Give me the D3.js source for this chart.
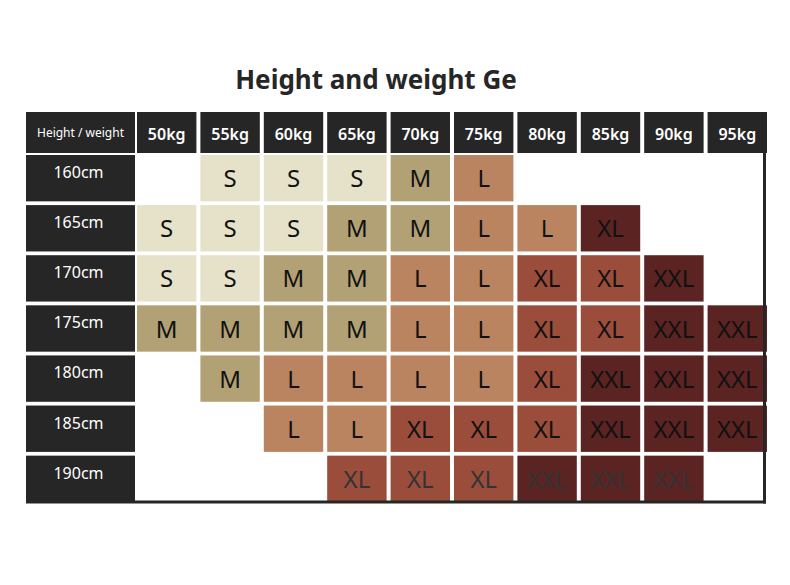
<!DOCTYPE html>
<html><head><meta charset="utf-8">
<script src="https://cdn.jsdelivr.net/npm/d3@7"></script>
<style>body{margin:0;background:#fff;} svg{display:block;}</style>
</head><body>
<script>
const title = "Height and weight Ge";
const cornerLabel = "Height / weight";
const weights = ["50kg","55kg","60kg","65kg","70kg","75kg","80kg","85kg","90kg","95kg"];
const heights = ["160cm","165cm","170cm","175cm","180cm","185cm","190cm"];
const row160 = [null,"S","S","S","M","L",null,null,null,null];
const row165 = ["S","S","S","M","M","L","L","XL",null,null];
const row170 = ["S","S","M","M","L","L","XL","XL","XXL",null];
const row175 = ["M","M","M","M","L","L","XL","XL","XXL","XXL"];
const row180 = [null,"M","L","L","L","L","XL","XXL","XXL","XXL"];
const row185 = [null,null,"L","L","XL","XL","XL","XXL","XXL","XXL"];
const row190 = [null,null,null,"XL","XL","XL","XXL","XXL","XXL",null];
const sizeGrid = [row160,row165,row170,row175,row180,row185,row190];
const sizes = ["S","M","L","XL","XXL"];
const darkCells = [["165cm","85kg"]];

const W = 790, H = 585;
const svg = d3.select("body").append("svg").attr("width",W).attr("height",H);
const font = "'Noto Sans','Open Sans',sans-serif";

const color = d3.scaleOrdinal().domain(sizes)
  .range(["#e6e2c9","#b1a175","#b9845f","#9b4d3b","#5b2322"]);

const x = d3.scaleBand().domain(weights).range([137, 767]).paddingInner(0.063);
const y = d3.scaleBand().domain(heights).range([155, 502]).paddingInner(0.075);
const labelX0 = 26, labelX1 = 135;
const headY0 = 112, headY1 = 153;

svg.append("text").attr("x", 376).attr("y", 89).attr("text-anchor","middle")
  .attr("font-family", font).attr("font-weight", 700).attr("font-size", 26)
  .attr("fill","#262626").text(title);

// header
svg.append("rect").attr("x", labelX0).attr("y", headY0).attr("width", labelX1-labelX0)
  .attr("height", headY1-headY0).attr("fill","#262626");
svg.append("text").attr("x",(labelX0+labelX1)/2).attr("y",(headY0+headY1)/2+4)
  .attr("text-anchor","middle").attr("font-family",font).attr("font-size",12)
  .attr("fill","#fff").text(cornerLabel);

const hdr = svg.append("g").selectAll("g").data(weights).join("g");
hdr.append("rect").attr("x", d=>x(d)).attr("y", headY0).attr("width", x.bandwidth())
  .attr("height", headY1-headY0).attr("fill","#262626");
hdr.append("text").attr("x", d=>x(d)+x.bandwidth()/2).attr("y", (headY0+headY1)/2+7)
  .attr("text-anchor","middle").attr("font-family",font).attr("font-weight",600)
  .attr("font-size",16).attr("fill","#fff").text(d=>d);

// row labels
const rl = svg.append("g").selectAll("g").data(heights).join("g");
rl.append("rect").attr("x", labelX0).attr("y", d=>y(d)).attr("width", labelX1-labelX0)
  .attr("height", y.bandwidth()).attr("fill","#262626");
rl.append("text").attr("x",(labelX0+labelX1)/2 - 2).attr("y", d=>y(d)+23)
  .attr("text-anchor","middle").attr("font-family",font).attr("font-size",16)
  .attr("fill","#fff").text(d=>d);

// cells
const cells = [];
sizeGrid.forEach((row,i)=>row.forEach((s,j)=>{ if(s) cells.push({h:heights[i], w:weights[j], s}); }));
const isDark = c => darkCells.some(([h,w])=>h===c.h && w===c.w);
const cg = svg.append("g").selectAll("g").data(cells).join("g");
cg.append("rect").attr("x", d=>x(d.w)).attr("y", d=>y(d.h)).attr("width", x.bandwidth())
  .attr("height", y.bandwidth()).attr("fill", d=> isDark(d) ? color("XXL") : color(d.s));
cg.append("text").attr("x", d=>x(d.w)+x.bandwidth()/2).attr("y", d=>y(d.h)+y.bandwidth()/2+9)
  .attr("text-anchor","middle").attr("font-family",font).attr("font-size",24)
  .attr("fill", d=> d.h==="190cm" ? "#333" : "#111").text(d=>d.s);

// frame lines
const lastRow = heights[heights.length-1];
svg.append("line").attr("x1", labelX0).attr("x2", 766).attr("y1", y(lastRow)+y.bandwidth()).attr("y2", y(lastRow)+y.bandwidth())
  .attr("stroke","#262626").attr("stroke-width",3);
svg.append("line").attr("x1", 764.5).attr("x2", 764.5).attr("y1", headY1).attr("y2", y(lastRow)+y.bandwidth()+1.5)
  .attr("stroke","#262626").attr("stroke-width",3);
</script>
</body></html>
